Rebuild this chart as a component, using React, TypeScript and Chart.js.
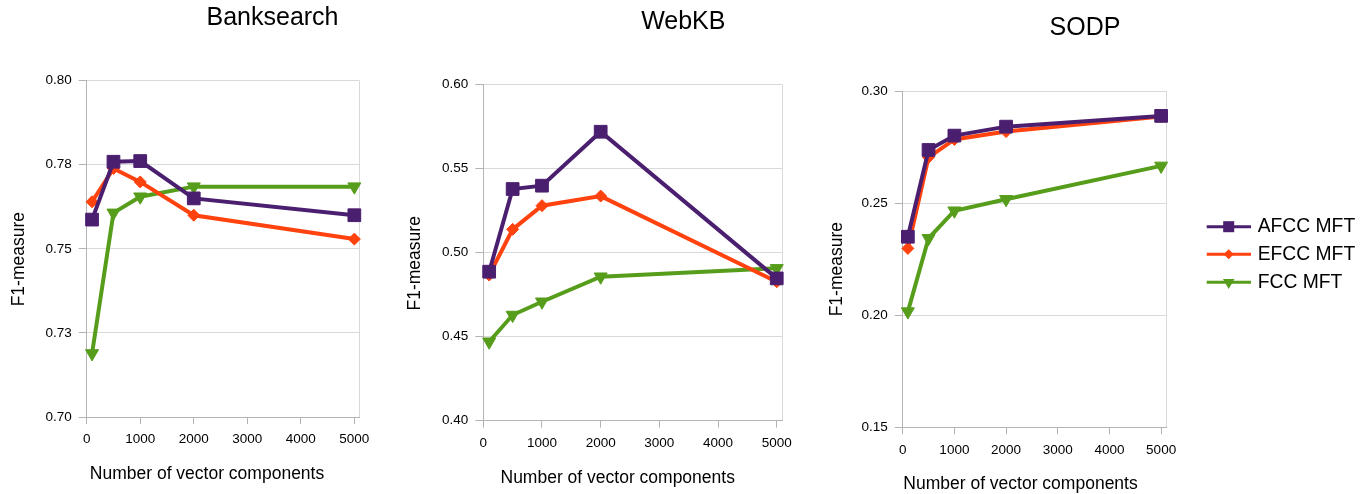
import { useEffect, useRef } from "react";
import { Chart, registerables } from "chart.js";
import { drawPoint } from "chart.js/helpers";

Chart.register(...registerables);

const W = 1369;
const H = 494;
const FONT = '"Liberation Sans", Arial, sans-serif';

// number of vector components (x values)
const components = [100, 500, 1000, 2000, 5000];
const seriesNames = ["AFCC MFT", "EFCC MFT", "FCC MFT"];
const xTicks = [0, 1000, 2000, 3000, 4000, 5000];
const xMax = 5100;

// Banksearch
const bankAfcc = [0.7587, 0.7759, 0.7761, 0.765, 0.76];
const bankEfcc = [0.764, 0.7739, 0.7699, 0.76, 0.7529];
const bankFcc = [0.7189, 0.7607, 0.7655, 0.7685, 0.7685];

// WebKB
const webkbAfcc = [0.4887, 0.5379, 0.5399, 0.572, 0.4847];
const webkbEfcc = [0.4867, 0.5139, 0.528, 0.5337, 0.4827];
const webkbFcc = [0.447, 0.4629, 0.4708, 0.4857, 0.4907];

// SODP
const sodpAfcc = [0.235, 0.2737, 0.2801, 0.2841, 0.2889];
const sodpEfcc = [0.2298, 0.2704, 0.2784, 0.2819, 0.2886];
const sodpFcc = [0.2016, 0.2343, 0.2466, 0.2517, 0.2666];

// look of the series
const colors = ["#4b1f6f", "#ff420e", "#579d1c"];
const pointStyles = ["rect", "rectRot", "triangle"];
const rotations = [0, 0, 180];
const radii = [9, 6, 7.5];
const legendRadii = [7.8, 5, 6.7];

const gridColor = "#d9d9d9";
const axisColor = "#b3b3b3";
const textColor = "#000";

// page layout of each panel
const panels = [
  {
    name: "Banksearch",
    series: [bankAfcc, bankEfcc, bankFcc],
    yMin: 0.7, yMax: 0.8, yStep: 0.025,
    plot: { left: 86.7, right: 359.7, top: 80.7, bottom: 417 },
    titleAt: [272.5, 18.3], xTitleAt: [207, 474.2], yTitleAt: [18.7, 259.2],
    legend: false,
  },
  {
    name: "WebKB",
    series: [webkbAfcc, webkbEfcc, webkbFcc],
    yMin: 0.4, yMax: 0.6, yStep: 0.05,
    plot: { left: 483.3, right: 782.6, top: 84.7, bottom: 420.7 },
    titleAt: [683.3, 22.5], xTitleAt: [617.7, 478], yTitleAt: [415.5, 263.3],
    legend: false,
  },
  {
    name: "SODP",
    series: [sodpAfcc, sodpEfcc, sodpFcc],
    yMin: 0.15, yMax: 0.3, yStep: 0.05,
    plot: { left: 902.7, right: 1166.3, top: 91, bottom: 427.3 },
    titleAt: [1085, 28.3], xTitleAt: [1020.5, 484], yTitleAt: [837.5, 269.2],
    legend: true,
  },
];

const legendBox = { x1: 1206.7, x2: 1251, marker: 1228.7, text: 1257.7, rows: [226.7, 254.3, 282.3] };

const Y_W = 60;
const X_H = 40;

const panelText = {
  id: "panelText",
  afterDraw(chart, _args, opts) {
    const ctx = chart.ctx;
    ctx.save();
    ctx.fillStyle = textColor;
    ctx.textAlign = "center";
    ctx.textBaseline = "middle";
    ctx.font = `25px ${FONT}`;
    ctx.fillText(opts.title, opts.titleAt[0], opts.titleAt[1]);
    ctx.font = `17.5px ${FONT}`;
    ctx.fillText("Number of vector components", opts.xTitleAt[0], opts.xTitleAt[1]);
    ctx.translate(opts.yTitleAt[0], opts.yTitleAt[1]);
    ctx.rotate(-Math.PI / 2);
    ctx.fillText("F1-measure", 0, 0);
    ctx.restore();

    if (!opts.legend) return;
    ctx.save();
    chart.data.datasets.forEach((ds, k) => {
      const y = legendBox.rows[k];
      ctx.strokeStyle = ds.borderColor;
      ctx.fillStyle = ds.borderColor;
      ctx.lineWidth = 3;
      ctx.beginPath();
      ctx.moveTo(legendBox.x1, y);
      ctx.lineTo(legendBox.x2, y);
      ctx.stroke();
      drawPoint(ctx, { pointStyle: pointStyles[k], rotation: rotations[k], radius: legendRadii[k], borderWidth: 0 }, legendBox.marker, y);
      ctx.fillStyle = textColor;
      ctx.font = `19.3px ${FONT}`;
      ctx.textAlign = "left";
      ctx.textBaseline = "middle";
      ctx.fillText(ds.label, legendBox.text, y);
    });
    ctx.restore();
  },
};

function buildConfig(p) {
  return {
    type: "line",
    data: {
      datasets: p.series.map((vals, k) => ({
        label: seriesNames[k],
        data: components.map((x, j) => ({ x, y: vals[j] })),
        borderColor: colors[k],
        backgroundColor: colors[k],
        pointBackgroundColor: colors[k],
        pointBorderColor: colors[k],
        pointStyle: pointStyles[k],
        pointRotation: rotations[k],
        pointRadius: radii[k],
        pointBorderWidth: 1,
        borderWidth: 4,
        tension: 0,
        clip: false,
      })),
    },
    options: {
      animation: false,
      responsive: false,
      devicePixelRatio: 1,
      events: [],
      layout: {
        padding: {
          left: p.plot.left - Y_W,
          right: W - p.plot.right,
          top: p.plot.top,
          bottom: H - p.plot.bottom - X_H,
        },
      },
      scales: {
        x: {
          type: "linear",
          min: 0,
          max: xMax,
          afterFit: (s) => { s.height = X_H; },
          // fixed ticks every 1000, plus the right edge of the plot
          afterBuildTicks: (s) => {
            s.ticks = [...xTicks, xMax].map((value) => ({ value }));
          },
          ticks: {
            padding: 7.5,
            color: textColor,
            font: { family: FONT, size: 13.5 },
            maxRotation: 0,
            autoSkip: false,
            callback: (v) => (v < xMax ? String(v) : ""),
          },
          grid: {
            color: (c) => (c.tick && c.tick.value >= xMax ? gridColor : "transparent"),
            tickColor: (c) => (c.tick && c.tick.value < xMax ? axisColor : "transparent"),
            tickLength: 7,
          },
          border: { display: true, color: axisColor },
        },
        y: {
          min: p.yMin,
          max: p.yMax,
          afterFit: (s) => { s.width = Y_W; },
          ticks: {
            stepSize: p.yStep,
            padding: 7,
            color: textColor,
            font: { family: FONT, size: 13.5 },
            callback: (v) => (Math.round(v * 1000) / 1000 + 1e-9).toFixed(2),
          },
          grid: { color: gridColor, tickColor: axisColor, tickLength: 8 },
          border: { display: true, color: axisColor },
        },
      },
      plugins: {
        legend: { display: false },
        tooltip: { enabled: false },
        title: { display: false },
        panelText: {
          title: p.name,
          titleAt: p.titleAt,
          xTitleAt: p.xTitleAt,
          yTitleAt: p.yTitleAt,
          legend: p.legend,
        },
      },
    },
    plugins: [panelText],
  };
}

export default function App() {
  const refs = useRef<(HTMLCanvasElement | null)[]>([]);

  useEffect(() => {
    const charts = panels.map((p, i) => new Chart(refs.current[i], buildConfig(p)));
    return () => {
      charts.forEach((c) => c.destroy());
    };
  }, []);

  return (
    <div style={{ position: "absolute", left: 0, top: 0, width: W, height: H, background: "#fff" }}>
      {panels.map((p, i) => (
        <canvas
          key={p.name}
          ref={(el) => {
            refs.current[i] = el;
          }}
          width={W}
          height={H}
          style={{ position: "absolute", left: 0, top: 0, width: W, height: H }}
        />
      ))}
    </div>
  );
}
